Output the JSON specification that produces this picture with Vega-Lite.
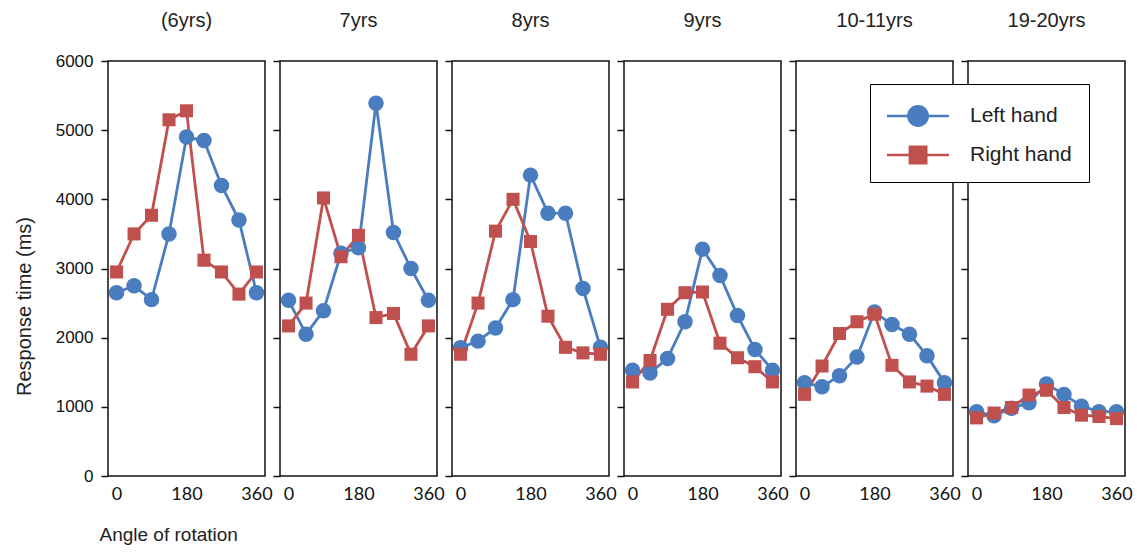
{
  "$schema": "https://vega.github.io/schema/vega-lite/v6.json",
  "padding": {"left": 13, "top": 10, "right": 5, "bottom": 5},
  "background": "white",
  "data": {"values": [
    {"age":"(6yrs)","hand":"Left hand","angle":0,"rt":2650},{"age":"(6yrs)","hand":"Left hand","angle":45,"rt":2750},{"age":"(6yrs)","hand":"Left hand","angle":90,"rt":2550},{"age":"(6yrs)","hand":"Left hand","angle":135,"rt":3500},{"age":"(6yrs)","hand":"Left hand","angle":180,"rt":4900},{"age":"(6yrs)","hand":"Left hand","angle":225,"rt":4850},{"age":"(6yrs)","hand":"Left hand","angle":270,"rt":4200},{"age":"(6yrs)","hand":"Left hand","angle":315,"rt":3700},{"age":"(6yrs)","hand":"Left hand","angle":360,"rt":2650},
    {"age":"(6yrs)","hand":"Right hand","angle":0,"rt":2950},{"age":"(6yrs)","hand":"Right hand","angle":45,"rt":3500},{"age":"(6yrs)","hand":"Right hand","angle":90,"rt":3770},{"age":"(6yrs)","hand":"Right hand","angle":135,"rt":5150},{"age":"(6yrs)","hand":"Right hand","angle":180,"rt":5280},{"age":"(6yrs)","hand":"Right hand","angle":225,"rt":3120},{"age":"(6yrs)","hand":"Right hand","angle":270,"rt":2950},{"age":"(6yrs)","hand":"Right hand","angle":315,"rt":2630},{"age":"(6yrs)","hand":"Right hand","angle":360,"rt":2950},
    {"age":"7yrs","hand":"Left hand","angle":0,"rt":2540},{"age":"7yrs","hand":"Left hand","angle":45,"rt":2050},{"age":"7yrs","hand":"Left hand","angle":90,"rt":2390},{"age":"7yrs","hand":"Left hand","angle":135,"rt":3220},{"age":"7yrs","hand":"Left hand","angle":180,"rt":3300},{"age":"7yrs","hand":"Left hand","angle":225,"rt":5390},{"age":"7yrs","hand":"Left hand","angle":270,"rt":3520},{"age":"7yrs","hand":"Left hand","angle":315,"rt":3000},{"age":"7yrs","hand":"Left hand","angle":360,"rt":2540},
    {"age":"7yrs","hand":"Right hand","angle":0,"rt":2170},{"age":"7yrs","hand":"Right hand","angle":45,"rt":2500},{"age":"7yrs","hand":"Right hand","angle":90,"rt":4020},{"age":"7yrs","hand":"Right hand","angle":135,"rt":3170},{"age":"7yrs","hand":"Right hand","angle":180,"rt":3480},{"age":"7yrs","hand":"Right hand","angle":225,"rt":2290},{"age":"7yrs","hand":"Right hand","angle":270,"rt":2350},{"age":"7yrs","hand":"Right hand","angle":315,"rt":1760},{"age":"7yrs","hand":"Right hand","angle":360,"rt":2170},
    {"age":"8yrs","hand":"Left hand","angle":0,"rt":1855},{"age":"8yrs","hand":"Left hand","angle":45,"rt":1950},{"age":"8yrs","hand":"Left hand","angle":90,"rt":2140},{"age":"8yrs","hand":"Left hand","angle":135,"rt":2550},{"age":"8yrs","hand":"Left hand","angle":180,"rt":4350},{"age":"8yrs","hand":"Left hand","angle":225,"rt":3800},{"age":"8yrs","hand":"Left hand","angle":270,"rt":3800},{"age":"8yrs","hand":"Left hand","angle":315,"rt":2710},{"age":"8yrs","hand":"Left hand","angle":360,"rt":1860},
    {"age":"8yrs","hand":"Right hand","angle":0,"rt":1760},{"age":"8yrs","hand":"Right hand","angle":45,"rt":2500},{"age":"8yrs","hand":"Right hand","angle":90,"rt":3540},{"age":"8yrs","hand":"Right hand","angle":135,"rt":4000},{"age":"8yrs","hand":"Right hand","angle":180,"rt":3390},{"age":"8yrs","hand":"Right hand","angle":225,"rt":2310},{"age":"8yrs","hand":"Right hand","angle":270,"rt":1860},{"age":"8yrs","hand":"Right hand","angle":315,"rt":1780},{"age":"8yrs","hand":"Right hand","angle":360,"rt":1760},
    {"age":"9yrs","hand":"Left hand","angle":0,"rt":1530},{"age":"9yrs","hand":"Left hand","angle":45,"rt":1490},{"age":"9yrs","hand":"Left hand","angle":90,"rt":1700},{"age":"9yrs","hand":"Left hand","angle":135,"rt":2230},{"age":"9yrs","hand":"Left hand","angle":180,"rt":3280},{"age":"9yrs","hand":"Left hand","angle":225,"rt":2900},{"age":"9yrs","hand":"Left hand","angle":270,"rt":2320},{"age":"9yrs","hand":"Left hand","angle":315,"rt":1830},{"age":"9yrs","hand":"Left hand","angle":360,"rt":1530},
    {"age":"9yrs","hand":"Right hand","angle":0,"rt":1360},{"age":"9yrs","hand":"Right hand","angle":45,"rt":1670},{"age":"9yrs","hand":"Right hand","angle":90,"rt":2410},{"age":"9yrs","hand":"Right hand","angle":135,"rt":2650},{"age":"9yrs","hand":"Right hand","angle":180,"rt":2660},{"age":"9yrs","hand":"Right hand","angle":225,"rt":1920},{"age":"9yrs","hand":"Right hand","angle":270,"rt":1710},{"age":"9yrs","hand":"Right hand","angle":315,"rt":1580},{"age":"9yrs","hand":"Right hand","angle":360,"rt":1360},
    {"age":"10-11yrs","hand":"Left hand","angle":0,"rt":1350},{"age":"10-11yrs","hand":"Left hand","angle":45,"rt":1290},{"age":"10-11yrs","hand":"Left hand","angle":90,"rt":1450},{"age":"10-11yrs","hand":"Left hand","angle":135,"rt":1720},{"age":"10-11yrs","hand":"Left hand","angle":180,"rt":2370},{"age":"10-11yrs","hand":"Left hand","angle":225,"rt":2190},{"age":"10-11yrs","hand":"Left hand","angle":270,"rt":2050},{"age":"10-11yrs","hand":"Left hand","angle":315,"rt":1740},{"age":"10-11yrs","hand":"Left hand","angle":360,"rt":1350},
    {"age":"10-11yrs","hand":"Right hand","angle":0,"rt":1180},{"age":"10-11yrs","hand":"Right hand","angle":45,"rt":1590},{"age":"10-11yrs","hand":"Right hand","angle":90,"rt":2060},{"age":"10-11yrs","hand":"Right hand","angle":135,"rt":2230},{"age":"10-11yrs","hand":"Right hand","angle":180,"rt":2340},{"age":"10-11yrs","hand":"Right hand","angle":225,"rt":1600},{"age":"10-11yrs","hand":"Right hand","angle":270,"rt":1360},{"age":"10-11yrs","hand":"Right hand","angle":315,"rt":1300},{"age":"10-11yrs","hand":"Right hand","angle":360,"rt":1180},
    {"age":"19-20yrs","hand":"Left hand","angle":0,"rt":930},{"age":"19-20yrs","hand":"Left hand","angle":45,"rt":870},{"age":"19-20yrs","hand":"Left hand","angle":90,"rt":980},{"age":"19-20yrs","hand":"Left hand","angle":135,"rt":1060},{"age":"19-20yrs","hand":"Left hand","angle":180,"rt":1330},{"age":"19-20yrs","hand":"Left hand","angle":225,"rt":1180},{"age":"19-20yrs","hand":"Left hand","angle":270,"rt":1010},{"age":"19-20yrs","hand":"Left hand","angle":315,"rt":930},{"age":"19-20yrs","hand":"Left hand","angle":360,"rt":930},
    {"age":"19-20yrs","hand":"Right hand","angle":0,"rt":840},{"age":"19-20yrs","hand":"Right hand","angle":45,"rt":910},{"age":"19-20yrs","hand":"Right hand","angle":90,"rt":990},{"age":"19-20yrs","hand":"Right hand","angle":135,"rt":1170},{"age":"19-20yrs","hand":"Right hand","angle":180,"rt":1240},{"age":"19-20yrs","hand":"Right hand","angle":225,"rt":990},{"age":"19-20yrs","hand":"Right hand","angle":270,"rt":880},{"age":"19-20yrs","hand":"Right hand","angle":315,"rt":860},{"age":"19-20yrs","hand":"Right hand","angle":360,"rt":830}
  ]},
  "bounds": "flush",
  "spacing": 15,
  "hconcat": [
    {
      "width": 157, "height": 415,
      "title": {"text": "(6yrs)", "offset": 21},
      "transform": [{"filter": "datum.age === '(6yrs)'"}],
      "encoding": {
        "x": {"field": "angle", "type": "quantitative", "scale": {"domain": [-22, 382], "nice": false, "zero": false},
              "axis": {"values": [0, 180, 360], "title": "Angle of rotation", "titleAnchor": "start", "titleAlign": "left", "titleX": -9, "titleY": 49, "titleBaseline": "top"}},
        "y": {"field": "rt", "type": "quantitative", "scale": {"domain": [0, 6000], "nice": false},
              "axis": {"values": [0,1000,2000,3000,4000,5000,6000], "format": "d", "labels": true, "title": "Response time (ms)", "titleX": -84, "titleY": 245, "titleBaseline": "middle", "titleFontSize": 20}}
      },
      "layer": [
        {"mark": {"type": "point", "filled": true, "opacity": 0},
         "encoding": {
           "shape": {"field": "hand", "type": "nominal",
             "scale": {"range": ["M-1,-0.09H3.13V0.09H-1Z M1.8,0A0.73,0.73 0 1,1 0.34,0A0.73,0.73 0 1,1 1.8,0Z", "M-1,-0.09H3.13V0.09H-1Z M0.44,-0.63H1.7V0.63H0.44Z"]},
             "legend": {"title": null, "orient": "none", "legendX": 762, "legendY": 23, "padding": 17, "strokeColor": "black", "fillColor": "white",
               "symbolSize": 900, "symbolStrokeWidth": 0, "symbolOpacity": 1, "labelOffset": 53, "rowPadding": 13, "labelFontSize": 21, "labelFont": "Liberation Sans", "labelColor": "#222"}},
           "fill": {"field": "hand", "type": "nominal", "scale": {"range": ["#4a7dbf", "#c0504d"]},
             "legend": {"title": null, "orient": "none", "legendX": 762, "legendY": 23, "padding": 17, "strokeColor": "black", "fillColor": "white",
               "symbolSize": 900, "symbolStrokeWidth": 0, "symbolOpacity": 1, "labelOffset": 53, "rowPadding": 13, "labelFontSize": 21, "labelFont": "Liberation Sans", "labelColor": "#222"}}
         }},
        {"mark": {"type": "line", "strokeWidth": 2.8},
         "encoding": {"color": {"field": "hand", "type": "nominal", "scale": {"domain": ["Left hand", "Right hand"], "range": ["#4a7dbf", "#c0504d"]}, "legend": null}}},
        {"mark": {"type": "point", "filled": true, "opacity": 1, "strokeWidth": 0},
         "encoding": {
           "color": {"field": "hand", "type": "nominal", "scale": {"domain": ["Left hand", "Right hand"], "range": ["#4a7dbf", "#c0504d"]}, "legend": null},
           "shape": {"condition": {"test": "datum.hand === 'Left hand'", "value": "circle"}, "value": "square"},
           "size": {"condition": {"test": "datum.hand === 'Left hand'", "value": 240}, "value": 170}
         }}
      ]
    },
    {
      "width": 157, "height": 415,
      "title": "7yrs",
      "transform": [{"filter": "datum.age === '7yrs'"}],
      "encoding": {
        "x": {"field": "angle", "type": "quantitative", "scale": {"domain": [-22, 382], "nice": false, "zero": false}, "axis": {"values": [0, 180, 360], "title": null}},
        "y": {"field": "rt", "type": "quantitative", "scale": {"domain": [0, 6000], "nice": false}, "axis": {"values": [0,1000,2000,3000,4000,5000,6000], "labels": false, "title": null}},
        "color": {"field": "hand", "type": "nominal", "scale": {"domain": ["Left hand", "Right hand"], "range": ["#4a7dbf", "#c0504d"]}, "legend": null}
      },
      "layer": [
        {"mark": {"type": "line", "strokeWidth": 2.8}},
        {"mark": {"type": "point", "filled": true, "opacity": 1, "strokeWidth": 0},
         "encoding": {
           "shape": {"condition": {"test": "datum.hand === 'Left hand'", "value": "circle"}, "value": "square"},
           "size": {"condition": {"test": "datum.hand === 'Left hand'", "value": 240}, "value": 170}
         }}
      ]
    },
    {
      "width": 157, "height": 415,
      "title": "8yrs",
      "transform": [{"filter": "datum.age === '8yrs'"}],
      "encoding": {
        "x": {"field": "angle", "type": "quantitative", "scale": {"domain": [-22, 382], "nice": false, "zero": false}, "axis": {"values": [0, 180, 360], "title": null}},
        "y": {"field": "rt", "type": "quantitative", "scale": {"domain": [0, 6000], "nice": false}, "axis": {"values": [0,1000,2000,3000,4000,5000,6000], "labels": false, "title": null}},
        "color": {"field": "hand", "type": "nominal", "scale": {"domain": ["Left hand", "Right hand"], "range": ["#4a7dbf", "#c0504d"]}, "legend": null}
      },
      "layer": [
        {"mark": {"type": "line", "strokeWidth": 2.8}},
        {"mark": {"type": "point", "filled": true, "opacity": 1, "strokeWidth": 0},
         "encoding": {
           "shape": {"condition": {"test": "datum.hand === 'Left hand'", "value": "circle"}, "value": "square"},
           "size": {"condition": {"test": "datum.hand === 'Left hand'", "value": 240}, "value": 170}
         }}
      ]
    },
    {
      "width": 157, "height": 415,
      "title": "9yrs",
      "transform": [{"filter": "datum.age === '9yrs'"}],
      "encoding": {
        "x": {"field": "angle", "type": "quantitative", "scale": {"domain": [-22, 382], "nice": false, "zero": false}, "axis": {"values": [0, 180, 360], "title": null}},
        "y": {"field": "rt", "type": "quantitative", "scale": {"domain": [0, 6000], "nice": false}, "axis": {"values": [0,1000,2000,3000,4000,5000,6000], "labels": false, "title": null}},
        "color": {"field": "hand", "type": "nominal", "scale": {"domain": ["Left hand", "Right hand"], "range": ["#4a7dbf", "#c0504d"]}, "legend": null}
      },
      "layer": [
        {"mark": {"type": "line", "strokeWidth": 2.8}},
        {"mark": {"type": "point", "filled": true, "opacity": 1, "strokeWidth": 0},
         "encoding": {
           "shape": {"condition": {"test": "datum.hand === 'Left hand'", "value": "circle"}, "value": "square"},
           "size": {"condition": {"test": "datum.hand === 'Left hand'", "value": 240}, "value": 170}
         }}
      ]
    },
    {
      "width": 157, "height": 415,
      "title": "10-11yrs",
      "transform": [{"filter": "datum.age === '10-11yrs'"}],
      "encoding": {
        "x": {"field": "angle", "type": "quantitative", "scale": {"domain": [-22, 382], "nice": false, "zero": false}, "axis": {"values": [0, 180, 360], "title": null}},
        "y": {"field": "rt", "type": "quantitative", "scale": {"domain": [0, 6000], "nice": false}, "axis": {"values": [0,1000,2000,3000,4000,5000,6000], "labels": false, "title": null}},
        "color": {"field": "hand", "type": "nominal", "scale": {"domain": ["Left hand", "Right hand"], "range": ["#4a7dbf", "#c0504d"]}, "legend": null}
      },
      "layer": [
        {"mark": {"type": "line", "strokeWidth": 2.8}},
        {"mark": {"type": "point", "filled": true, "opacity": 1, "strokeWidth": 0},
         "encoding": {
           "shape": {"condition": {"test": "datum.hand === 'Left hand'", "value": "circle"}, "value": "square"},
           "size": {"condition": {"test": "datum.hand === 'Left hand'", "value": 240}, "value": 170}
         }}
      ]
    },
    {
      "width": 157, "height": 415,
      "title": "19-20yrs",
      "transform": [{"filter": "datum.age === '19-20yrs'"}],
      "encoding": {
        "x": {"field": "angle", "type": "quantitative", "scale": {"domain": [-22, 382], "nice": false, "zero": false}, "axis": {"values": [0, 180, 360], "title": null}},
        "y": {"field": "rt", "type": "quantitative", "scale": {"domain": [0, 6000], "nice": false}, "axis": {"values": [0,1000,2000,3000,4000,5000,6000], "labels": false, "title": null}},
        "color": {"field": "hand", "type": "nominal", "scale": {"domain": ["Left hand", "Right hand"], "range": ["#4a7dbf", "#c0504d"]}, "legend": null}
      },
      "layer": [
        {"mark": {"type": "line", "strokeWidth": 2.8}},
        {"mark": {"type": "point", "filled": true, "opacity": 1, "strokeWidth": 0},
         "encoding": {
           "shape": {"condition": {"test": "datum.hand === 'Left hand'", "value": "circle"}, "value": "square"},
           "size": {"condition": {"test": "datum.hand === 'Left hand'", "value": 240}, "value": 170}
         }}
      ]
    }
  ],
  "config": {
    "font": "Liberation Sans",
    "view": {"stroke": "#111", "strokeWidth": 1.5},
    "title": {"fontSize": 20, "font": "Liberation Sans", "fontWeight": "normal", "color": "#222", "offset": 29, "anchor": "middle"},
    "axisX": {"domain": false, "ticks": false, "grid": false, "labelFont": "Lato", "labelFontSize": 18, "labelColor": "#111", "labelPadding": 9, "labelFlush": false,
              "titleFont": "Liberation Sans", "titleFontSize": 19, "titleFontWeight": "normal", "titleColor": "#222"},
    "axisY": {"domain": false, "grid": false, "tickSize": 7, "tickColor": "#111", "tickWidth": 1.5, "labelFont": "Liberation Sans", "labelFontSize": 17, "labelColor": "#111", "labelPadding": 8,
              "titleFont": "Liberation Sans", "titleFontSize": 19, "titleFontWeight": "normal", "titleColor": "#222"}
  }
}
